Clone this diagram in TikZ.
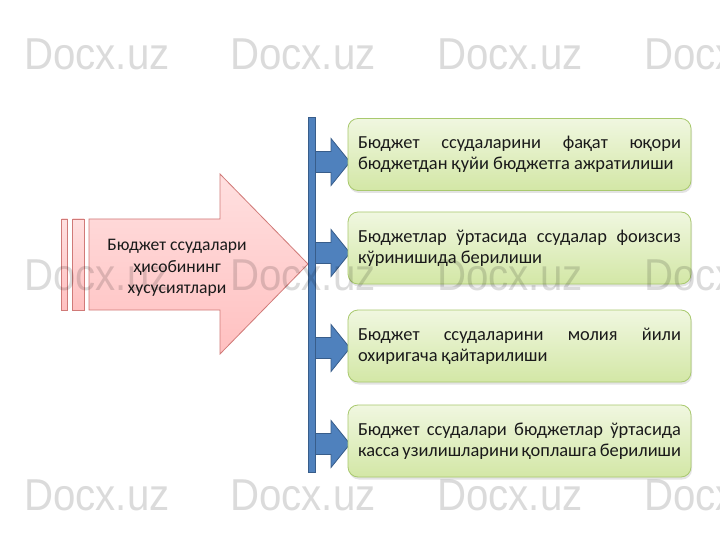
\documentclass[tikz,border=0pt]{standalone}
\usepackage{fontspec}
\setmainfont{Carlito}
\newfontfamily\wmfont{Liberation Sans}
\usetikzlibrary{shadows}
\definecolor{pinkborder}{HTML}{D07A78}
\definecolor{pinktop}{HTML}{FFE0E0}
\definecolor{pinkbot}{HTML}{FFC0C0}
\definecolor{bluefill}{HTML}{4F81BD}
\definecolor{blueborder}{HTML}{385D8A}
\definecolor{greentop}{HTML}{F0F7E0}
\definecolor{greenbot}{HTML}{D3E7A6}
\definecolor{greenborder}{HTML}{A9C96E}
\definecolor{txt}{HTML}{1A1A1A}
\tikzset{
  pinkshape/.style={draw=pinkborder, line width=0.8pt, top color=pinktop, bottom color=pinkbot},
  bluepart/.style={draw=blueborder, line width=0.8pt, fill=bluefill},
  greenbox/.style={draw=greenborder, line width=0.8pt, rounded corners=10pt,
    top color=greentop, bottom color=greenbot,
    drop shadow={opacity=0.22, shadow xshift=1pt, shadow yshift=-2.5pt},
    minimum width=343pt, minimum height=72pt, inner xsep=10pt, inner ysep=0pt,
    text width=323pt, align=justify, text=txt, font=\fontsize{18.4}{21}\selectfont},
  titletext/.style={align=center, text=txt, font=\fontsize{17.6}{21.5}\selectfont, inner sep=0pt},
  wm/.style={anchor=base west, inner sep=0pt, text=black, opacity=0.14,
    font=\wmfont\fontsize{44.7}{50}\selectfont, xscale=0.9}
}
\begin{document}
\begin{tikzpicture}[x=1pt,y=-1pt]
\useasboundingbox[fill=white] (0,0) rectangle (720,540);
% striped pink arrow
\draw[pinkshape] (61.5,219) rectangle (67.5,310);
\draw[pinkshape] (72.5,219) rectangle (84,310);
\draw[pinkshape] (89,219) -- (220,219) -- (220,174) -- (308,264) -- (220,354) -- (220,310) -- (89,310) -- cycle;
\node[titletext] (title) at (177,268) {Бюджет ссудалари\\ҳисобининг\\хусусиятлари};
% vertical blue bar
\draw[bluepart] (308.5,117) rectangle (315.5,472);
% small blue arrows
\foreach \cy in {162,253,348,444}{
  \draw[bluepart] (316,\cy-10.5) -- (331,\cy-10.5) -- (331,\cy-23.5) -- (350,\cy) -- (331,\cy+23.5) -- (331,\cy+10.5) -- (316,\cy+10.5);
}
% green boxes
\node[greenbox] (b1) at (519.5,154.5) {Бюджет ссудаларини фақат юқори бюджетдан қуйи бюджетга ажратилиши};
\node[greenbox] (b2) at (519.5,248) {Бюджетлар ўртасида ссудалар фоизсиз кўринишида берилиши};
\node[greenbox] (b3) at (519.5,346) {Бюджет ссудаларини молия йили охиригача қайтарилиши};
\node[greenbox] (b4) at (519.5,441) {Бюджет ссудалари бюджетлар ўртасида касса узилишларини қоплашга берилиши};
% watermarks
\foreach \r/\yy in {1/70,2/290,3/510}{
  \foreach \c/\xx in {1/24,2/230,3/437,4/644}{
    \node[wm] (wm\r\c) at (\xx,\yy) {Docx.uz};
  }
}
\end{tikzpicture}
\end{document}
